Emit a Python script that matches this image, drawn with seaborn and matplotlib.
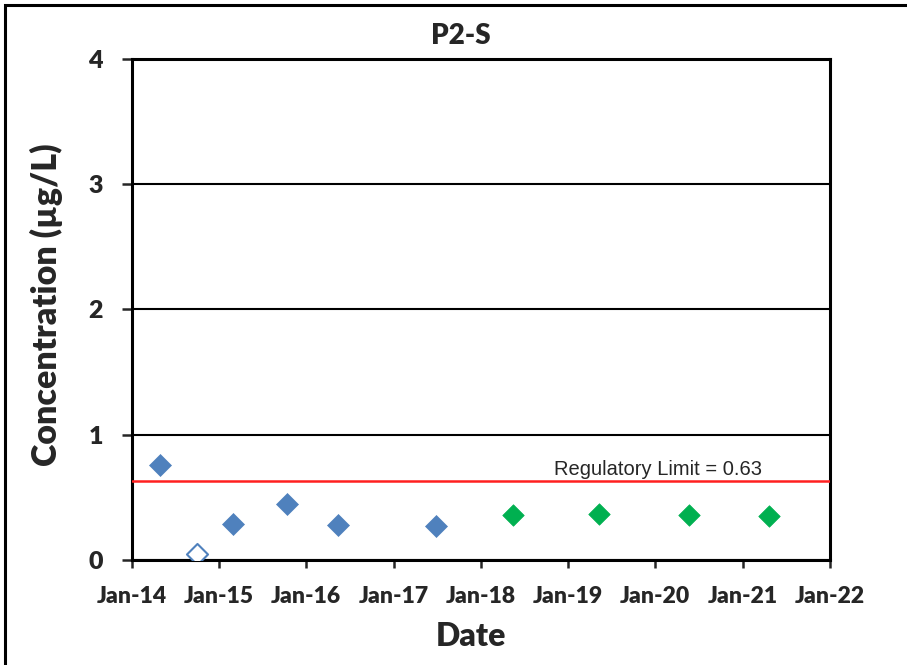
import matplotlib
matplotlib.use('Agg')
import pandas as pd
import matplotlib.pyplot as plt
import matplotlib.dates as mdates
from matplotlib.patches import Rectangle
import seaborn as sns

# sample data
dates_detect = ["2014-04-29", "2015-02-27", "2015-10-13", "2016-05-11", "2017-06-26"]
values_detect = [0.76, 0.29, 0.45, 0.28, 0.27]
dates_nondetect = ["2014-10-01"]
values_nondetect = [0.05]
dates_recent = ["2018-05-14", "2019-05-08", "2020-05-20", "2021-04-21"]
values_recent = [0.36, 0.37, 0.36, 0.35]
reg_limit = 0.63
y_ticks = [0, 1, 2, 3, 4]

sns.set_style("white")
plt.rcParams['font.family'] = ['Lato', 'DejaVu Sans']
WEIGHT = 800

detect = pd.DataFrame({"date": pd.to_datetime(dates_detect), "conc": values_detect})
nondetect = pd.DataFrame({"date": pd.to_datetime(dates_nondetect), "conc": values_nondetect})
recent = pd.DataFrame({"date": pd.to_datetime(dates_recent), "conc": values_recent})

fig = plt.figure(figsize=(9.07, 6.65), dpi=100)
ax = fig.add_axes([0.1455, 0.1579, 0.7696, 0.7534])

blue = "#4F81BD"
green = "#00B050"

sns.scatterplot(data=detect, x="date", y="conc", ax=ax, marker="D", s=125,
                color=blue, edgecolor=blue, linewidth=0.5, zorder=5)
sns.scatterplot(data=nondetect, x="date", y="conc", ax=ax, marker="D", s=115,
                facecolor="white", edgecolor=blue, linewidth=1.5, zorder=5)
sns.scatterplot(data=recent, x="date", y="conc", ax=ax, marker="D", s=120,
                color=green, edgecolor=green, linewidth=0.5, zorder=5)

ax.axhline(reg_limit, color="#FF2020", lw=1.8, zorder=3)
ax.text(0.753, reg_limit + 0.05, f"Regulatory Limit = {reg_limit}",
        transform=ax.get_yaxis_transform(), ha="center", va="baseline",
        fontsize=14.5, family=["Liberation Sans", "DejaVu Sans"])

ax.set_xlim(pd.Timestamp("2014-01-01"), pd.Timestamp("2022-01-01"))
ax.set_ylim(0, 4)
ax.set_yticks(y_ticks)
ax.xaxis.set_major_locator(mdates.YearLocator())
ax.xaxis.set_major_formatter(mdates.DateFormatter("%b-%y"))
ax.yaxis.grid(True, color="black", lw=1.5)
ax.set_axisbelow(True)

for side in ax.spines.values():
    side.set_color("black")
    side.set_linewidth(2.2)

ax.tick_params(axis="x", direction="out", length=6, width=1.8, pad=13,
               labelsize=16.5, bottom=True)
ax.tick_params(axis="y", direction="out", length=7, width=1.8, pad=14,
               labelsize=18, left=True)
for lab in ax.get_xticklabels() + ax.get_yticklabels():
    lab.set_fontweight(WEIGHT)

ax.set_xlabel("")
ax.set_ylabel("")
fig.text(461 / 907, 1 - 36 / 665, "P2-S", ha="center", va="center",
         fontsize=20, fontweight=WEIGHT)
fig.text(471 / 907, 1 - 636 / 665, "Date", ha="center", va="center",
         fontsize=23, fontweight=WEIGHT)
fig.text(46 / 907, 1 - 305 / 665, "Concentration (µg/L)", ha="center", va="center",
         rotation=90, fontsize=24.5, fontweight=WEIGHT)

# outer chart-area border
fig.add_artist(Rectangle((5 / 907, -0.1), 1.2, 1.1 - 5 / 665, transform=fig.transFigure,
                         fill=False, lw=2.2, edgecolor="black"))

fig.savefig("out.png", dpi=100)
